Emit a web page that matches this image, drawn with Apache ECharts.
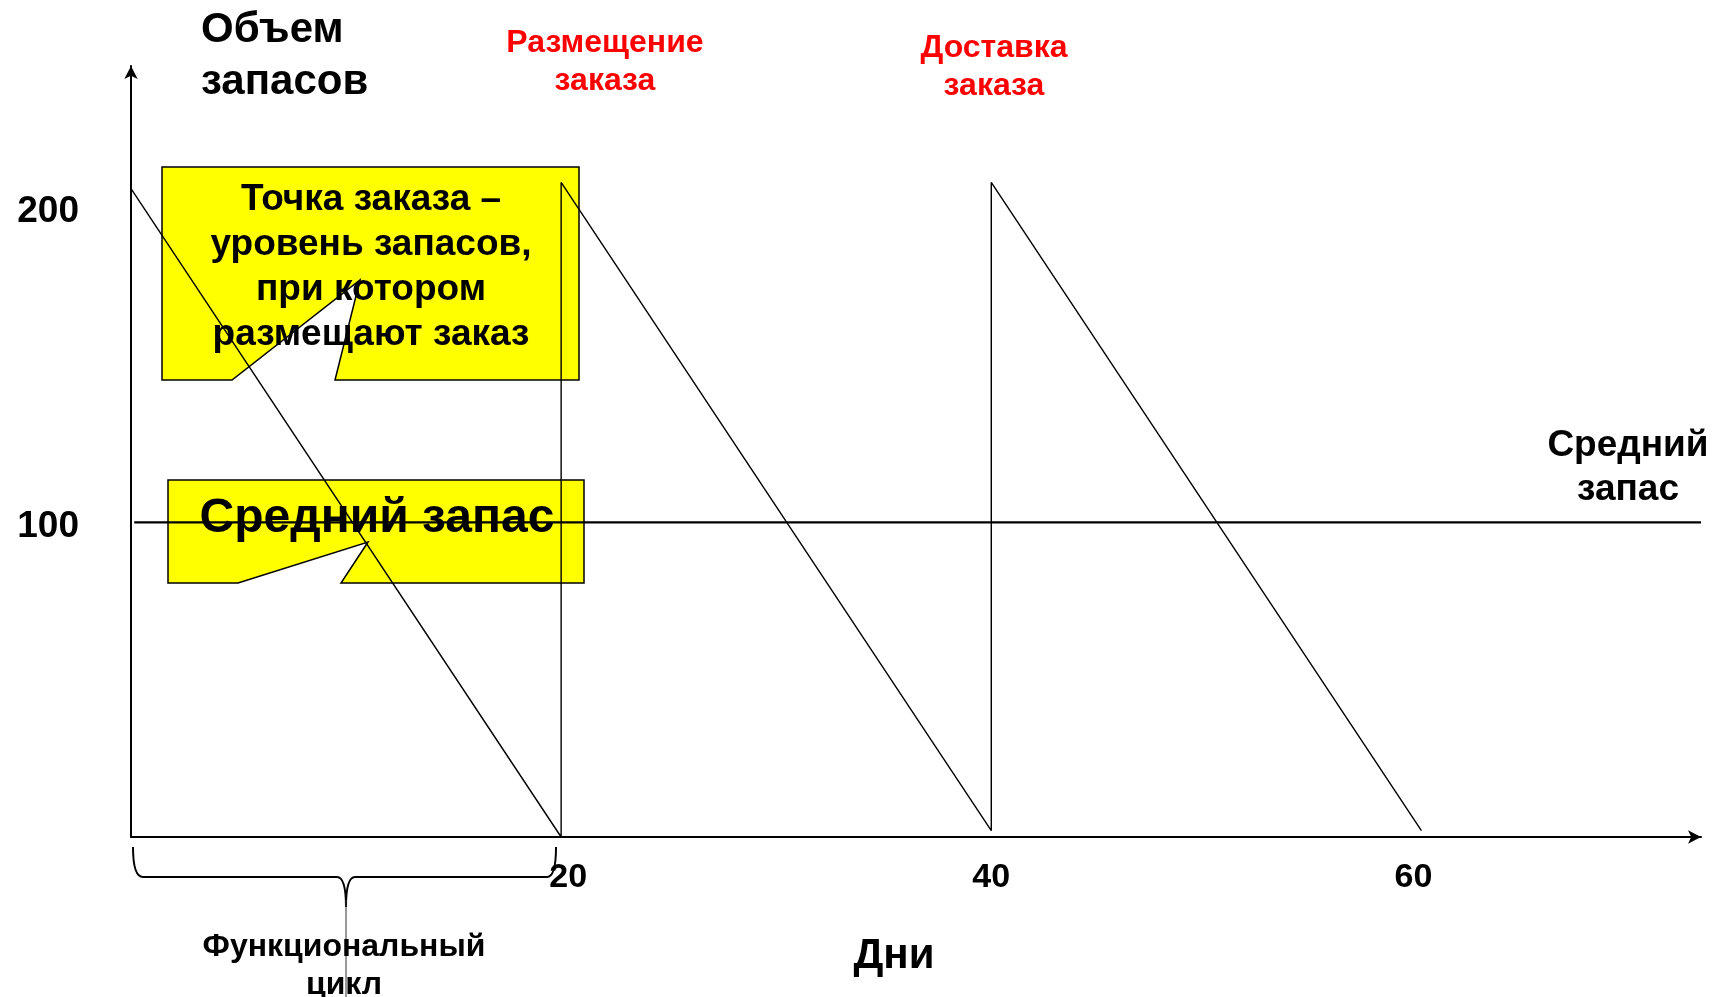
<!DOCTYPE html>
<html><head><meta charset="utf-8">
<script src="https://cdn.jsdelivr.net/npm/echarts@6/dist/echarts.min.js"></script>
<style>html,body{margin:0;padding:0;background:#fff}#c{width:1717px;height:997px}</style>
</head><body><div id="c"></div>
<script>
// ---- data ----
const days = [0, 20, 20, 40, 40, 60];
const stock = [206, 0, 208, 2, 208, 2];
const avgDays = [0.15, 73.0];
const avgStock = [100, 100];
const xTickValues = [20, 40, 60];
const yTickValues = [100, 200];
const yTitle = ['Объем', 'запасов'];
const xTitle = 'Дни';
const orderPlaced = ['Размещение', 'заказа'];
const orderDelivered = ['Доставка', 'заказа'];
const avgLabel = ['Средний', 'запас'];
const calloutReorder = ['Точка заказа –', 'уровень запасов,', 'при котором', 'размещают заказ'];
const calloutAvg = 'Средний запас';
const cycleLabel = ['Функциональный', 'цикл'];

const FONT = '"Liberation Sans", Arial, sans-serif';
const chart = echarts.init(document.getElementById('c'));

function txt(x, y, lines, size, color, lh, align) {
  return {
    type: 'text', z: 5, x: x, y: y,
    style: {
      text: lines.join('\n'), fill: color, font: 'bold ' + size + 'px ' + FONT,
      align: align || 'center', verticalAlign: 'middle', lineHeight: lh
    }
  };
}
const braceStyle = { fill: 'none', stroke: '#000', lineWidth: 2 };
function curve(x1, y1, cx, cy, x2, y2) {
  return { type: 'bezierCurve', z: 3, shape: { x1: x1, y1: y1, cpx1: cx, cpy1: cy, x2: x2, y2: y2 }, style: braceStyle };
}
function seg(x1, y1, x2, y2, st) {
  return { type: 'line', z: 3, shape: { x1: x1, y1: y1, x2: x2, y2: y2 }, style: st || braceStyle };
}

const graphics = [
  txt(201, 56, yTitle, 42, '#000', 52, 'left'),
  txt(605, 62, orderPlaced, 32, '#ff0000', 38),
  txt(994, 67, orderDelivered, 32, '#ff0000', 38),
  txt(1628, 468, avgLabel, 37, '#000', 44),
  txt(894, 956, [xTitle], 42, '#000', 50),
  txt(344, 966, cycleLabel, 32, '#000', 38),
  // callout 1
  {
    type: 'polygon', z: 1,
    shape: { points: [[162,167],[579,167],[579,380],[335,380],[360,280],[232,380],[162,380]] },
    style: { fill: '#ffff00', stroke: '#000', lineWidth: 1.5 }
  },
  {
    type: 'text', z: 2, x: 371, y: 267,
    style: { text: calloutReorder.join('\n'), fill: '#000', font: 'bold 37px ' + FONT,
      align: 'center', verticalAlign: 'middle', lineHeight: 45 }
  },
  // callout 2
  {
    type: 'polygon', z: 1,
    shape: { points: [[168,480],[584,480],[584,583],[341,583],[368,542],[238,583],[168,583]] },
    style: { fill: '#ffff00', stroke: '#000', lineWidth: 1.5 }
  },
  {
    type: 'text', z: 2, x: 377, y: 519,
    style: { text: calloutAvg, fill: '#000', font: 'bold 48px ' + FONT,
      align: 'center', verticalAlign: 'middle' }
  },
  // brace under the first cycle
  curve(133, 847, 133, 877, 143, 877),
  seg(143, 877, 337, 877),
  curve(337, 877, 346, 877, 346, 907),
  curve(346, 907, 346, 877, 355, 877),
  seg(355, 877, 547, 877),
  curve(547, 877, 556, 877, 556, 847),
  seg(346, 900, 346, 997, { stroke: '#333', lineWidth: 1 })
];

const base = { fontSize: 34, fontWeight: 'bold', fontFamily: FONT, color: '#000' };
const tickRich = {
  a: Object.assign({}, base, { padding: [0, 0, 0, 14] }),
  b: Object.assign({}, base),
  c: Object.assign({}, base, { padding: [0, 16, 6, 0] }),
  y: Object.assign({}, base, { fontSize: 37, padding: [8, 0, 0, 0] })
};

chart.setOption({
  animation: false,
  backgroundColor: '#fff',
  grid: { left: 131, top: 66, width: 1570, height: 771, containLabel: false },
  xAxis: {
    type: 'value', min: 0, max: 73.0, interval: 20,
    axisLine: { show: true, onZero: false, symbol: ['none', 'arrow'], symbolSize: [10, 13],
      lineStyle: { color: '#000', width: 2 } },
    axisTick: { show: false },
    splitLine: { show: false },
    axisLabel: {
      showMinLabel: false, showMaxLabel: false, margin: 24,
      color: '#000', fontSize: 34, fontWeight: 'bold', fontFamily: FONT, rich: tickRich,
      formatter: v => {
        const k = xTickValues.indexOf(v);
        return k < 0 ? '' : '{' + 'abc'[k] + '|' + v + '}';
      }
    }
  },
  yAxis: {
    type: 'value', min: 0, max: 245, interval: 100,
    axisLine: { show: true, onZero: false, symbol: ['none', 'arrow'], symbolSize: [10, 13],
      lineStyle: { color: '#000', width: 2 } },
    axisTick: { show: false },
    splitLine: { show: false },
    axisLabel: {
      showMinLabel: false, showMaxLabel: false, margin: 52,
      color: '#000', fontSize: 37, fontWeight: 'bold', fontFamily: FONT, rich: tickRich,
      formatter: v => (yTickValues.indexOf(v) >= 0 ? '{y|' + v + '}' : '')
    }
  },
  graphic: graphics,
  series: [
    {
      type: 'line', z: 10, symbol: 'none', silent: true,
      data: days.map((d, i) => [d, stock[i]]),
      lineStyle: { color: '#000', width: 1.4 }
    },
    {
      type: 'line', z: 10, symbol: 'none', silent: true,
      data: avgDays.map((d, i) => [d, avgStock[i]]),
      lineStyle: { color: '#000', width: 2.2 }
    }
  ]
});
</script></body></html>
